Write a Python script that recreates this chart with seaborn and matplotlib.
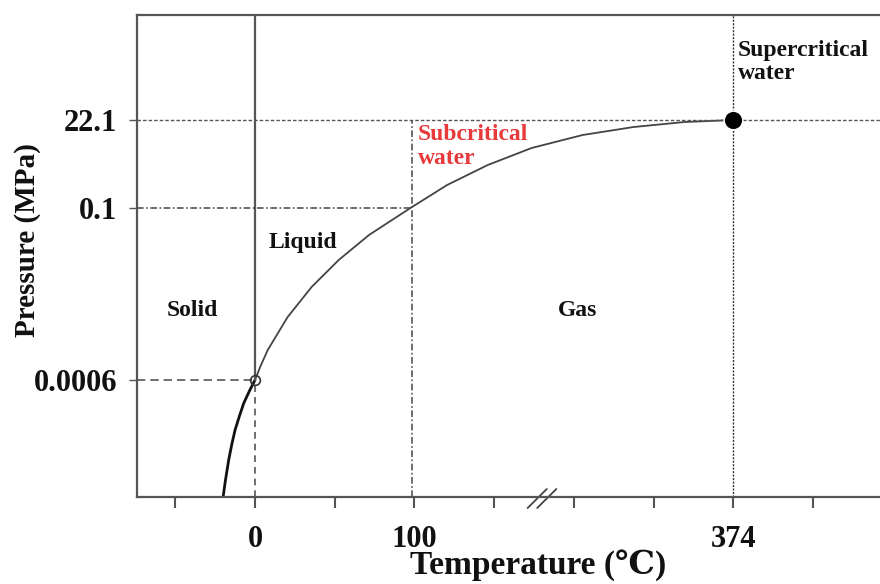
import numpy as np
import pandas as pd
import seaborn as sns
import matplotlib.pyplot as plt

# schematic phase diagram of water (positions on a schematic, not to scale)
tick_pos = [-1, 0, 1, 2, 3, 4, 5, 6, 7]
tick_lab = ['', '0', '', '100', '', '', '', '374', '']
p_pos = [1.17, 2.89, 3.77]
p_lab = ['0.0006', '0.1', '22.1']

# sublimation curve (solid-gas) down to the bottom edge
sub_x = [-0.40, -0.37, -0.33, -0.29, -0.25, -0.195, -0.14, -0.07, 0.0]
sub_y = [0.0, 0.17, 0.37, 0.53, 0.67, 0.81, 0.94, 1.06, 1.17]
# vaporization curve from triple point to critical point
vap_x = [0.0, 0.07, 0.16, 0.41, 0.71, 1.05, 1.43, 1.95, 2.41, 2.92, 3.47, 4.11, 4.75, 5.39, 6.0]
vap_y = [1.17, 1.31, 1.47, 1.80, 2.10, 2.37, 2.62, 2.89, 3.12, 3.32, 3.49, 3.62, 3.70, 3.75, 3.77]
triple = (0.0, 1.17)
critical = (6.0, 3.77)

sns.set_style("white")
plt.rcParams['font.family'] = ['Liberation Serif', 'DejaVu Serif']
plt.rcParams['font.weight'] = 'bold'

fig = plt.figure(figsize=(8.8, 5.84), dpi=100)
ax = fig.add_axes([137 / 880, 87 / 584, 743 / 880, 482 / 584])
xmin, xmax = -1.48, 7.84
ymin, ymax = 0, 4.82
ax.set_xlim(xmin, xmax)
ax.set_ylim(ymin, ymax)

gray = '#555555'
sub_df = pd.DataFrame({'x': sub_x, 'y': sub_y})
vap_df = pd.DataFrame({'x': vap_x, 'y': vap_y})
sns.lineplot(data=sub_df, x='x', y='y', sort=False, color='#111111', lw=2.0, ax=ax)
sns.lineplot(data=vap_df, x='x', y='y', sort=False, color='#444444', lw=1.3, ax=ax)

# melting line (solid) above triple point, dashed below
ax.plot([triple[0], triple[0]], [triple[1], ymax], color=gray, lw=1.6)
ax.plot([triple[0], triple[0]], [ymin, triple[1]], color=gray, lw=1.2, ls=(0, (4, 3)))
ax.plot([xmin, triple[0]], [triple[1], triple[1]], color=gray, lw=1.2, ls=(0, (5, 3)))
# 0.1 MPa / 100 C guide lines
ax.plot([xmin, 1.95], [p_pos[1], p_pos[1]], color=gray, lw=1.2, ls=(0, (4, 1.5, 1, 1.5)))
ax.plot([1.97, 1.97], [ymin, p_pos[2]], color=gray, lw=1.2, ls=(0, (4, 1.5, 1, 1.5)))
# critical guide lines
ax.plot([xmin, xmax], [critical[1], critical[1]], color=gray, lw=1.0, ls=(0, (2.5, 1.5)))
ax.plot([critical[0], critical[0]], [ymin, ymax], color='#333333', lw=1.0, ls=(0, (1.5, 1)))

sns.scatterplot(x=[critical[0]], y=[critical[1]], s=180, color='black', ax=ax, zorder=5)
ax.plot([triple[0]], [triple[1]], 'o', ms=7, mfc='none', mec='#333333', mew=1.2, zorder=5)

# axis break mark
for dx in (-0.06, 0.06):
    ax.plot([3.6 + dx - 0.12, 3.6 + dx + 0.12], [-0.11, 0.08], color='#444444', lw=1.3,
            clip_on=False)

ax.set_xticks(tick_pos)
ax.set_xticklabels(tick_lab)
ax.set_yticks(p_pos)
ax.set_yticklabels(p_lab)
ax.tick_params(axis='x', direction='out', length=8, width=1.5, color=gray, pad=12,
               labelsize=22, bottom=True)
ax.tick_params(axis='y', direction='out', length=6, width=1.0, color=gray, pad=8,
               labelsize=22, left=True)
for lab in ax.get_xticklabels() + ax.get_yticklabels():
    lab.set_fontweight('bold')
    lab.set_color('#111111')

for s in ['left', 'top', 'bottom']:
    ax.spines[s].set_color(gray)
    ax.spines[s].set_linewidth(1.6)
ax.spines['right'].set_visible(False)

ax.set_ylabel('')
ax.set_xlabel('Temperature (℃)', fontsize=24, fontweight='bold', color='#111111')
ax.xaxis.set_label_coords(0.54, -0.108)
fig.text(28 / 880, 1 - 240 / 584, 'Pressure (MPa)', rotation=90, ha='center', va='center',
         fontsize=21, fontweight='bold', color='#111111')

kw = dict(fontsize=17, fontweight='bold', color='#111111')
ax.text((192 - 255) / 79.75, (497 - 310) / 100, 'Solid', ha='center', va='center', **kw)
ax.text((303 - 255) / 79.75, (497 - 242) / 100, 'Liquid', ha='center', va='center', **kw)
ax.text((578 - 255) / 79.75, (497 - 310) / 100, 'Gas', ha='center', va='center', **kw)
ax.text((738 - 255) / 79.75, (497 - 40) / 100, 'Supercritical\nwater', ha='left', va='top',
        linespacing=1.15, **kw)
ax.text((418 - 255) / 79.75, (497 - 124) / 100, 'Subcritical\nwater', ha='left', va='top',
        linespacing=1.2, fontsize=17, fontweight='bold', color='#e8393b')

fig.savefig('out.png', dpi=100)
